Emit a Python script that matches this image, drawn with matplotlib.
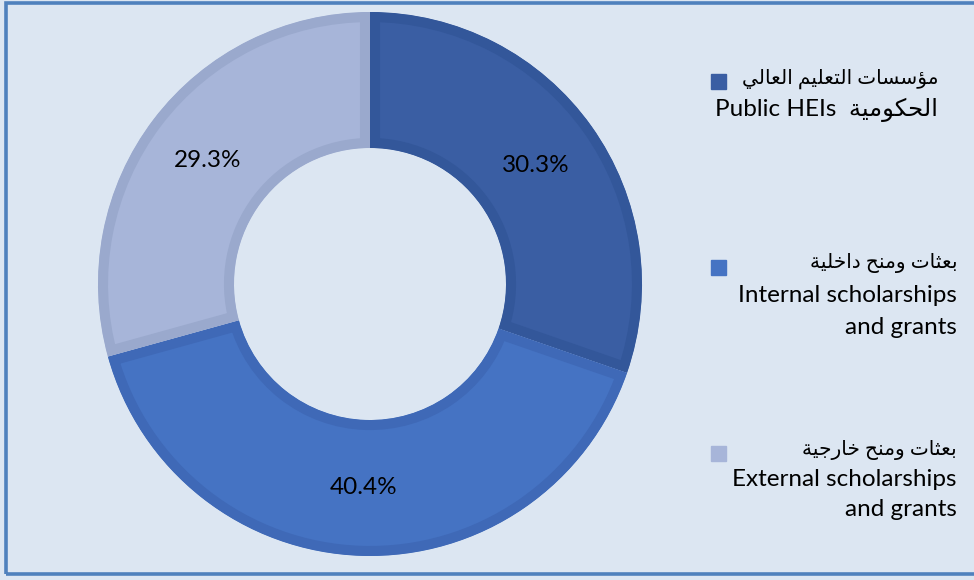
import matplotlib
matplotlib.use("Agg")
import matplotlib.pyplot as plt
from matplotlib.patches import Rectangle

# data
shares = [30.3, 40.4, 29.3]
labels_ar = ["مؤسسات التعليم العالي", "بعثات ومنح داخلية", "بعثات ومنح خارجية"]
labels_en = [["الحكومية", "Public HEIs"],
             ["Internal scholarships", "and grants"],
             ["External scholarships", "and grants"]]
fills = ["#3a5ea3", "#4573c3", "#a7b5d9"]
borders = ["#33579a", "#3f69b7", "#9aa9cd"]
bg = "#dce6f2"

# minimal arabic shaping: (isolated, final, initial, medial)
FORMS = {
    "ا": ("\uFE8D", "\uFE8E", None, None),
    "ؤ": ("\uFE85", "\uFE86", None, None),
    "ب": ("\uFE8F", "\uFE90", "\uFE91", "\uFE92"),
    "ة": ("\uFE93", "\uFE94", None, None),
    "ت": ("\uFE95", "\uFE96", "\uFE97", "\uFE98"),
    "ث": ("\uFE99", "\uFE9A", "\uFE9B", "\uFE9C"),
    "ج": ("\uFE9D", "\uFE9E", "\uFE9F", "\uFEA0"),
    "ح": ("\uFEA1", "\uFEA2", "\uFEA3", "\uFEA4"),
    "خ": ("\uFEA5", "\uFEA6", "\uFEA7", "\uFEA8"),
    "د": ("\uFEA9", "\uFEAA", None, None),
    "ر": ("\uFEAD", "\uFEAE", None, None),
    "س": ("\uFEB1", "\uFEB2", "\uFEB3", "\uFEB4"),
    "ع": ("\uFEC9", "\uFECA", "\uFECB", "\uFECC"),
    "ك": ("\uFED9", "\uFEDA", "\uFEDB", "\uFEDC"),
    "ل": ("\uFEDD", "\uFEDE", "\uFEDF", "\uFEE0"),
    "م": ("\uFEE1", "\uFEE2", "\uFEE3", "\uFEE4"),
    "ن": ("\uFEE5", "\uFEE6", "\uFEE7", "\uFEE8"),
    "و": ("\uFEED", "\uFEEE", None, None),
    "ي": ("\uFEF1", "\uFEF2", "\uFEF3", "\uFEF4"),
}


def shape(text):
    out = []
    for i, c in enumerate(text):
        if c not in FORMS:
            out.append(c)
            continue
        prev = text[i - 1] if i > 0 else None
        nxt = text[i + 1] if i + 1 < len(text) else None
        jp = prev in FORMS and FORMS[prev][2] is not None
        jn = nxt in FORMS and FORMS[c][2] is not None
        iso, fin, ini, med = FORMS[c]
        if jp and jn:
            out.append(med)
        elif jp:
            out.append(fin)
        elif jn:
            out.append(ini)
        else:
            out.append(iso)
    return "".join(out)[::-1]


W, H = 974, 580
fig = plt.figure(figsize=(W / 100, H / 100), dpi=100)
fig.patch.set_facecolor(bg)
ax = fig.add_axes([0, 0, 1, 1])
ax.set_xlim(0, W)
ax.set_ylim(0, H)
ax.axis("off")

# frame (right side runs off the picture)
ax.add_patch(Rectangle((6, 6), W + 20, H - 9, fill=False,
                       edgecolor="#4f81bd", lw=2.6, zorder=0))

fnt = ["Lato", "DejaVu Sans"]
wedges, texts, autotexts = ax.pie(
    shares, center=(370, 296), radius=272, startangle=90, counterclock=False,
    colors=fills, autopct="%.1f%%", pctdistance=0.75,
    wedgeprops=dict(width=136), textprops=dict(fontsize=17.5, family=fnt),
    frame=True)
# inner border: stroke clipped to the wedge itself
for w, bc in zip(wedges, borders):
    w.set_edgecolor(bc)
    w.set_linewidth(14.5)
    w.set_clip_on(True)
    w.set_clip_path(w)
ax.set_xlim(0, W)
ax.set_ylim(0, H)
ax.axis("off")

# legend rows: (square y, text right x, line ys)
rows = [(499, 938, [501, 470]),
        (313, 957, [317, 285, 253]),
        (127, 957, [130, 100, 70])]
for i, (sy, xr, ys) in enumerate(rows):
    ax.add_patch(Rectangle((711, sy - 7.5), 15, 15, color=fills[i]))
    ax.text(xr, ys[0], shape(labels_ar[i]), ha="right", va="center",
            fontsize=14.5, family=fnt)
    if i == 0:
        line = labels_en[0][1] + "  " + shape(labels_en[0][0])
        ax.text(xr, ys[1], line, ha="right", va="center", fontsize=17.5, family=fnt)
    else:
        for y, t in zip(ys[1:], labels_en[i]):
            ax.text(xr, y, t, ha="right", va="center", fontsize=17.5, family=fnt)

fig.savefig("out.png", dpi=100, facecolor=bg)
